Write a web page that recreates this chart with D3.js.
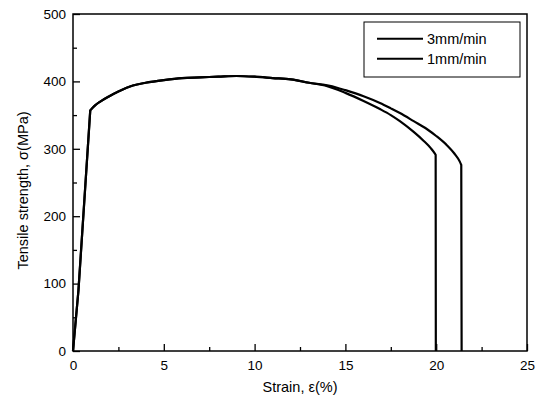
<!DOCTYPE html>
<html>
<head>
<meta charset="utf-8">
<script src="https://cdn.jsdelivr.net/npm/d3@7"></script>
<style>
  body { margin: 0; background: #fff; }
  svg { font-family: "Liberation Sans", Arial, sans-serif; }
</style>
</head>
<body>
<div id="chart"></div>
<script>
// strain (%) and stress (MPa)
const strain3 = [0, 0.3, 0.95, 1.2, 1.5, 2, 2.5, 3.3, 4, 5, 6, 7, 8, 9, 10, 11, 12, 13, 14, 15, 16, 16.9, 17.5, 18, 18.76, 19.3, 19.7, 19.9, 19.97, 19.98];
const stress3 = [0, 90, 357, 364, 370, 378, 385, 394, 398, 402, 405, 406, 407, 408, 407, 405, 403, 398, 393, 383, 371, 359, 350, 341, 325, 312, 301, 294, 291, 0];
const strain1 = [0, 0.3, 0.95, 1.2, 1.5, 2, 2.5, 3.3, 4, 5, 6, 7, 8, 9, 10, 11, 12, 13, 14, 14.5, 15, 16, 16.9, 17.5, 18, 18.76, 19.5, 20, 20.6, 21, 21.3, 21.38, 21.4];
const stress1 = [0, 90, 357, 364, 370, 378, 385, 394, 398, 402, 405, 406, 407, 408, 407, 405, 403, 398, 394, 391, 387, 378, 368, 360, 353, 341, 329, 319, 305, 293, 281, 276, 0];
const seriesNames = ["3mm/min", "1mm/min"];
const xTicks = [0, 5, 10, 15, 20, 25];
const yTicks = [0, 100, 200, 300, 400, 500];

const width = 544, height = 402;
const margin = {top: 14, right: 17, bottom: 51, left: 73};

const svg = d3.select("#chart").append("svg")
    .attr("width", width).attr("height", height);

const x = d3.scaleLinear().domain([0, 25]).range([margin.left, width - margin.right]);
const y = d3.scaleLinear().domain([0, 500]).range([height - margin.bottom, margin.top]);

// minor ticks
const xMinor = d3.range(2.5, 25, 5);
const yMinor = d3.range(50, 500, 100);

svg.append("g")
    .attr("transform", `translate(0,${y(0)})`)
    .call(d3.axisBottom(x).tickValues(xMinor).tickSize(-4).tickFormat(""))
    .call(g => g.select(".domain").remove());
svg.append("g")
    .attr("transform", `translate(${x(0)},0)`)
    .call(d3.axisLeft(y).tickValues(yMinor).tickSize(-4).tickFormat(""))
    .call(g => g.select(".domain").remove());

// major ticks + labels
svg.append("g")
    .attr("transform", `translate(0,${y(0)})`)
    .call(d3.axisBottom(x).tickValues(xTicks).tickSize(-7).tickPadding(7).tickFormat(d3.format("d")))
    .call(g => g.select(".domain").remove())
    .call(g => g.selectAll("text").attr("font-size", 13.5).attr("fill", "#000").attr("dy", "0.9em"));
svg.append("g")
    .attr("transform", `translate(${x(0)},0)`)
    .call(d3.axisLeft(y).tickValues(yTicks).tickSize(-7).tickPadding(7).tickFormat(d3.format("d")))
    .call(g => g.select(".domain").remove())
    .call(g => g.selectAll("text").attr("font-size", 13.5).attr("fill", "#000"));

svg.selectAll(".tick line").attr("stroke", "#000").attr("stroke-width", 1.3);

// frame
svg.append("rect")
    .attr("x", x(0)).attr("y", y(500))
    .attr("width", x(25) - x(0)).attr("height", y(0) - y(500))
    .attr("fill", "none").attr("stroke", "#000").attr("stroke-width", 1.5);

// curves: straight elastic part, smooth plastic part
const line = d3.line().x(d => x(d[0])).y(d => y(d[1]));
const smooth = d3.line().curve(d3.curveMonotoneX).x(d => x(d[0])).y(d => y(d[1]));
function curvePath(sx, sy) {
    const pts = d3.zip(sx, sy);
    const n = pts.length;
    return line(pts.slice(0, 3)) + smooth(pts.slice(2, n - 1)).replace(/^M/, "L") +
        "L" + x(pts[n - 1][0]) + "," + y(pts[n - 1][1]);
}
const curves = [[strain3, stress3], [strain1, stress1]];
svg.selectAll("path.curve")
    .data(curves)
    .enter().append("path")
    .attr("class", "curve")
    .attr("fill", "none")
    .attr("stroke", "#000")
    .attr("stroke-width", 2.2)
    .attr("stroke-linejoin", "round")
    .attr("d", d => curvePath(d[0], d[1]));

// axis titles
svg.append("text")
    .attr("x", (x(0) + x(25)) / 2).attr("y", 392)
    .attr("text-anchor", "middle").attr("font-size", 14.5)
    .text("Strain, ε(%)");
svg.append("text")
    .attr("transform", `translate(28,${(y(0) + y(500)) / 2 + 8}) rotate(-90)`)
    .attr("text-anchor", "middle").attr("font-size", 14.5)
    .text("Tensile strength, σ(MPa)");

// legend
const legend = svg.append("g");
legend.append("rect")
    .attr("x", 364).attr("y", 22).attr("width", 156).attr("height", 55)
    .attr("fill", "#fff").attr("stroke", "#000").attr("stroke-width", 1);
seriesNames.forEach((name, i) => {
    const ly = 38.7 + i * 20;
    legend.append("line")
        .attr("x1", 377).attr("x2", 423).attr("y1", ly).attr("y2", ly)
        .attr("stroke", "#000").attr("stroke-width", 2);
    legend.append("text")
        .attr("x", 427).attr("y", ly + 5)
        .attr("font-size", 14.5)
        .text(name);
});
</script>
</body>
</html>
